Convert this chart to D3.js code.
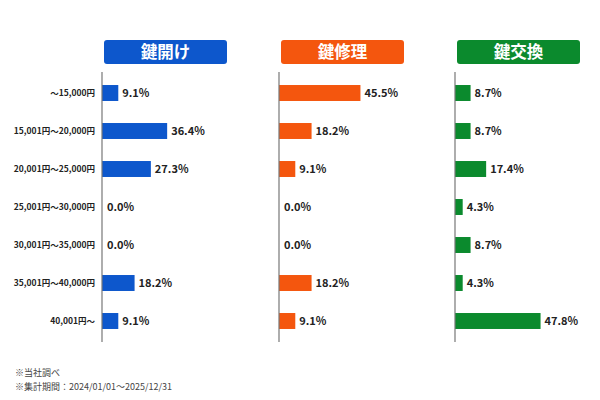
<!DOCTYPE html>
<html><head><meta charset="utf-8">
<script src="https://cdn.jsdelivr.net/npm/d3@7"></script>
<style>body{margin:0;background:#fff}svg{display:block}</style>
</head><body>
<svg id="c" width="600" height="400"></svg>
<script>
const categories = ["～15,000円","15,001円～20,000円","20,001円～25,000円","25,001円～30,000円","30,001円～35,000円","35,001円～40,000円","40,001円～"];
const seriesNames = ["鍵開け","鍵修理","鍵交換"];
const seriesColors = ["#0d57cc","#f4560e","#0b8a2d"];
const kaigi = [9.1,36.4,27.3,0.0,0.0,18.2,9.1];
const shuri = [45.5,18.2,9.1,0.0,0.0,18.2,9.1];
const koukan = [8.7,8.7,17.4,4.3,8.7,4.3,47.8];
const notes = ["※当社調べ","※集計期間：2024/01/01～2025/12/31"];
const allSeries = [kaigi, shuri, koukan];

const svg = d3.select("#c");
const font = "'Noto Sans CJK JP','Noto Sans',sans-serif";
const y = d3.scaleBand().domain(categories).range([74, 340]).paddingInner(0.58).paddingOuter(0.29);
const x = d3.scaleLinear().domain([0,100]).range([0,179]);
const axisX = [102, 279, 455];

svg.append("g").selectAll("text").data(categories).join("text")
  .attr("x", 95).attr("y", d => y(d) + y.bandwidth()/2)
  .attr("dy", "0.35em").attr("text-anchor","end")
  .attr("font-family", font).attr("font-size", 8.5).attr("font-weight", 700).attr("fill","#222")
  .text(d => d);

allSeries.forEach((vals, i) => {
  const g = svg.append("g").attr("transform", `translate(${axisX[i]},0)`);
  g.append("rect").attr("x", 2).attr("y", 40).attr("width", 123).attr("height", 24).attr("rx", 3)
    .attr("fill", seriesColors[i]);
  g.append("text").attr("x", 63.5).attr("y", 52).attr("dy","0.36em").attr("text-anchor","middle")
    .attr("font-family", font).attr("font-size", 16.5).attr("font-weight", 700).attr("fill","#fff")
    .text(seriesNames[i]);
  g.selectAll("rect.bar").data(vals).join("rect").attr("class","bar")
    .attr("x", 0).attr("y", (d,j) => y(categories[j]))
    .attr("width", d => x(d)).attr("height", y.bandwidth())
    .attr("fill", seriesColors[i]);
  g.selectAll("text.val").data(vals).join("text").attr("class","val")
    .attr("x", d => (d === 0 ? 5 : x(d) + 4)).attr("y", (d,j) => y(categories[j]) + y.bandwidth()/2)
    .attr("dy","0.36em")
    .attr("font-family", font).attr("font-size", 11).attr("font-weight", 700).attr("fill","#222")
    .text(d => d.toFixed(1) + "%");
  g.append("line").attr("x1",0).attr("x2",0).attr("y1",72).attr("y2",342)
    .attr("stroke","#777").attr("stroke-width",1.2);
});

svg.append("g").selectAll("text").data(notes).join("text")
  .attr("x", 15).attr("y", (d,i) => 373 + i*14).attr("dy","0.35em")
  .attr("font-family", font).attr("font-size", 9).attr("fill","#444")
  .text(d => d);
</script>
</body></html>
